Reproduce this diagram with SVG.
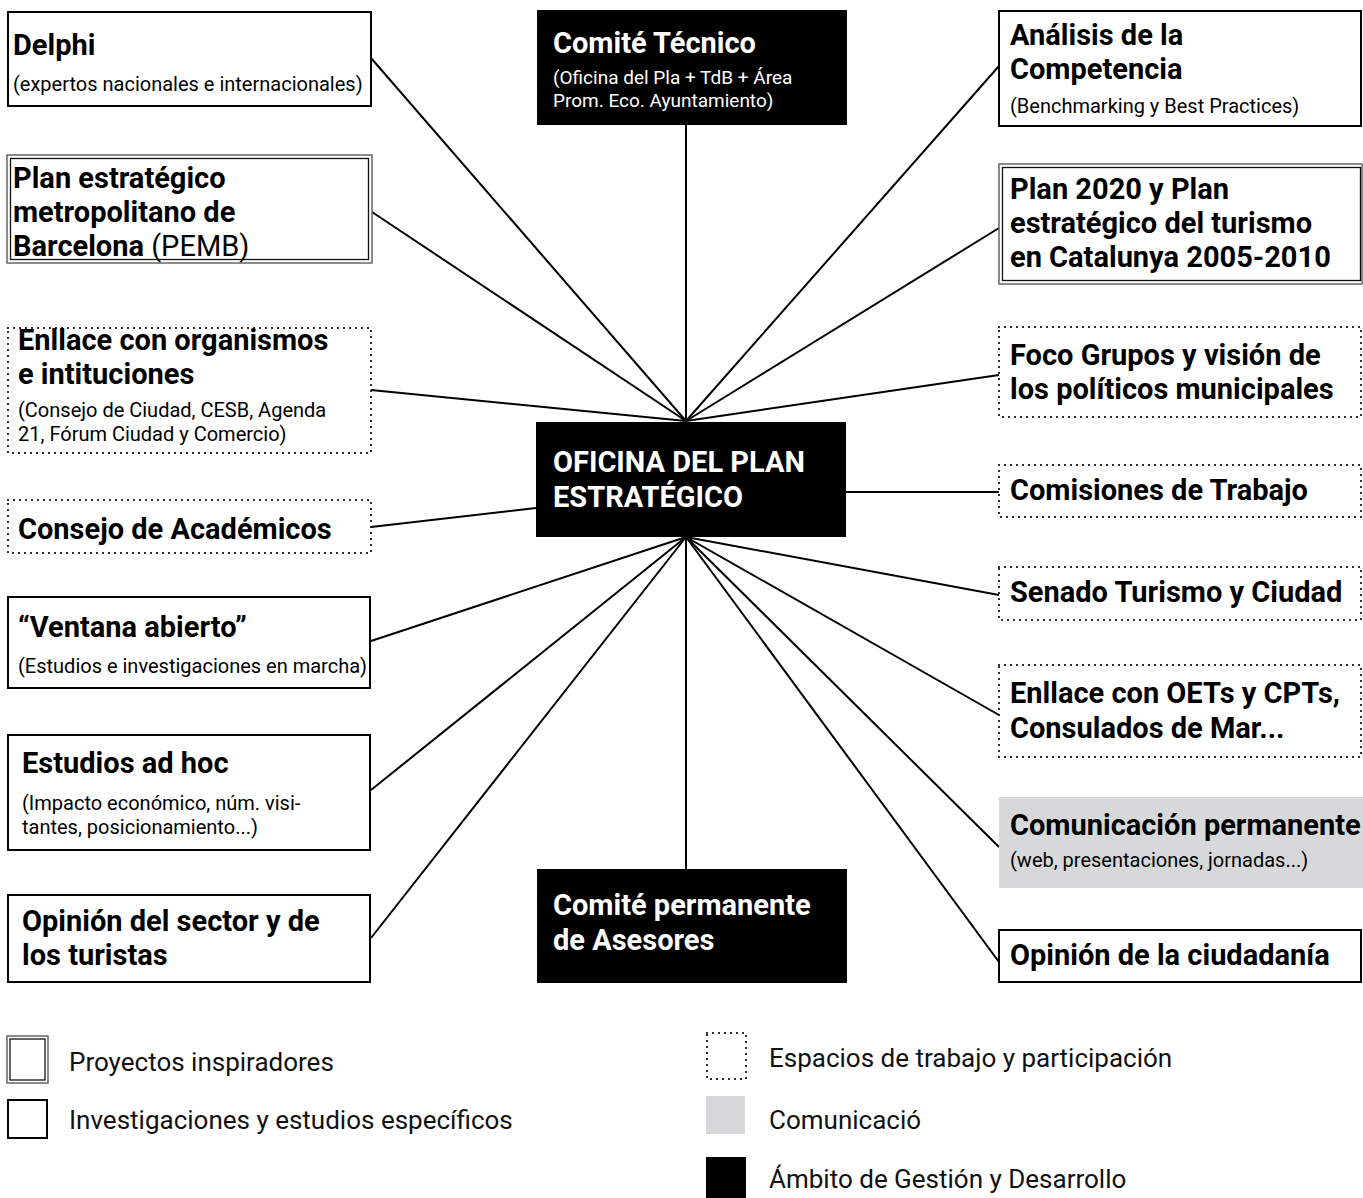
<svg xmlns="http://www.w3.org/2000/svg" width="1363" height="1198" viewBox="0 0 1363 1198">
<style>
.t{font-family:Roboto,"Liberation Sans",sans-serif;font-weight:700;font-size:29px;fill:#000}
.s{font-family:Roboto,"Liberation Sans",sans-serif;font-weight:400;font-size:20px;fill:#000}
.w{fill:#fff}
.n{font-weight:400}
.lg{font-family:Roboto,"Liberation Sans",sans-serif;font-weight:400;font-size:26px;fill:#111}
.solid{fill:#fff;stroke:#000;stroke-width:2}
.dot{fill:#fff;stroke:#000;stroke-width:2.2;stroke-dasharray:0 6;stroke-linecap:round}
.dbo{fill:#fff;stroke:#666;stroke-width:1.5}
.dbi{fill:none;stroke:#111;stroke-width:1.3}
.blk{fill:#000}
.gry{fill:#d7d8da}
.con line{stroke:#000;stroke-width:2}
</style>
<rect width="1363" height="1198" fill="#fff"/>
<g class="con" id="connectors">
<line x1="686" y1="125" x2="686" y2="421"/>
<line x1="686" y1="421" x2="371" y2="58"/>
<line x1="686" y1="421" x2="372" y2="212"/>
<line x1="686" y1="421" x2="371" y2="390"/>
<line x1="686" y1="421" x2="999" y2="66"/>
<line x1="686" y1="421" x2="999" y2="228"/>
<line x1="686" y1="421" x2="999" y2="375"/>
<line x1="371" y1="527" x2="536" y2="508"/>
<line x1="846" y1="492" x2="999" y2="492"/>
<line x1="686" y1="537" x2="371" y2="641"/>
<line x1="686" y1="537" x2="371" y2="790"/>
<line x1="686" y1="537" x2="371" y2="938"/>
<line x1="686" y1="537" x2="999" y2="595"/>
<line x1="686" y1="537" x2="999" y2="715"/>
<line x1="686" y1="537" x2="999" y2="847"/>
<line x1="686" y1="537" x2="999" y2="962"/>
<line x1="686" y1="537" x2="686" y2="869"/>
</g>
<g id="comite-tecnico">
<rect class="blk" x="537" y="10" width="310" height="115"/>
<text class="t w" x="553" y="53">Comité Técnico</text>
<text class="s w" x="553" y="84" style="font-size:19px">(Oficina del Pla + TdB + Área</text>
<text class="s w" x="553" y="107" style="font-size:19px">Prom. Eco. Ayuntamiento)</text>
</g>
<g id="oficina">
<rect class="blk" x="536" y="422" width="310" height="115"/>
<text class="t w" x="553" y="472">OFICINA DEL PLAN</text>
<text class="t w" x="553" y="507">ESTRATÉGICO</text>
</g>
<g id="comite-permanente">
<rect class="blk" x="537" y="869" width="310" height="114"/>
<text class="t w" x="553" y="915">Comité permanente</text>
<text class="t w" x="553" y="950">de Asesores</text>
</g>
<g id="delphi">
<rect class="solid" x="8" y="12" width="363" height="94"/>
<text class="t" x="13" y="55">Delphi</text>
<text class="s" x="13" y="91">(expertos nacionales e internacionales)</text>
</g>
<g id="pemb">
<rect class="dbo" x="7" y="155" width="365" height="108"/>
<rect class="dbi" x="10.5" y="158.5" width="358" height="101"/>
<text class="t" x="13" y="188">Plan estratégico</text>
<text class="t" x="13" y="222">metropolitano de</text>
<text class="t" x="13" y="256">Barcelona <tspan class="n">(PEMB)</tspan></text>
</g>
<g id="enllace-organismos">
<rect class="dot" x="8" y="328" width="363" height="125"/>
<text class="t" x="18" y="350">Enllace con organismos</text>
<text class="t" x="18" y="384">e intituciones</text>
<text class="s" x="18" y="417">(Consejo de Ciudad, CESB, Agenda</text>
<text class="s" x="18" y="441">21, Fórum Ciudad y Comercio)</text>
</g>
<g id="consejo-academicos">
<rect class="dot" x="8" y="500" width="363" height="53"/>
<text class="t" x="18" y="539">Consejo de Académicos</text>
</g>
<g id="ventana">
<rect class="solid" x="8" y="597" width="362" height="91"/>
<text class="t" x="18" y="637">“Ventana abierto”</text>
<text class="s" x="18" y="673">(Estudios e investigaciones en marcha)</text>
</g>
<g id="estudios">
<rect class="solid" x="8" y="735" width="362" height="115"/>
<text class="t" x="22" y="773">Estudios ad hoc</text>
<text class="s" x="22" y="810">(Impacto económico, núm. visi-</text>
<text class="s" x="22" y="834">tantes, posicionamiento...)</text>
</g>
<g id="opinion-sector">
<rect class="solid" x="8" y="895" width="362" height="87"/>
<text class="t" x="22" y="931">Opinión del sector y de</text>
<text class="t" x="22" y="965">los turistas</text>
</g>
<g id="analisis">
<rect class="solid" x="999" y="11" width="362" height="115"/>
<text class="t" x="1010" y="45">Análisis de la</text>
<text class="t" x="1010" y="79">Competencia</text>
<text class="s" x="1010" y="113">(Benchmarking y Best Practices)</text>
</g>
<g id="plan2020">
<rect class="dbo" x="999" y="164" width="363" height="120"/>
<rect class="dbi" x="1002.5" y="167.5" width="358" height="113"/>
<text class="t" x="1010" y="199">Plan 2020 y Plan</text>
<text class="t" x="1010" y="233">estratégico del turismo</text>
<text class="t" x="1010" y="267">en Catalunya 2005-2010</text>
</g>
<g id="foco">
<rect class="dot" x="999" y="327" width="362" height="90"/>
<text class="t" x="1010" y="365">Foco Grupos y visión de</text>
<text class="t" x="1010" y="399">los políticos municipales</text>
</g>
<g id="comisiones">
<rect class="dot" x="999" y="465" width="362" height="52"/>
<text class="t" x="1010" y="500">Comisiones de Trabajo</text>
</g>
<g id="senado">
<rect class="dot" x="999" y="567" width="362" height="53"/>
<text class="t" x="1010" y="602">Senado Turismo y Ciudad</text>
</g>
<g id="enllace-oets">
<rect class="dot" x="999" y="665" width="362" height="92"/>
<text class="t" x="1010" y="703">Enllace con OETs y CPTs,</text>
<text class="t" x="1010" y="738">Consulados de Mar...</text>
</g>
<g id="comunicacion">
<rect class="gry" x="999" y="797" width="364" height="91"/>
<text class="t" x="1010" y="835">Comunicación permanente</text>
<text class="s" x="1010" y="867">(web, presentaciones, jornadas...)</text>
</g>
<g id="opinion-ciudadania">
<rect class="solid" x="999" y="930" width="362" height="52"/>
<text class="t" x="1010" y="965">Opinión de la ciudadanía</text>
</g>
<g id="legend">
<rect class="dbo" x="7" y="1036" width="41" height="47"/>
<rect class="dbi" x="10" y="1039" width="35" height="41"/>
<text class="lg" x="69" y="1071">Proyectos inspiradores</text>
<rect class="solid" x="8" y="1100" width="39" height="38"/>
<text class="lg" x="69" y="1129">Investigaciones y estudios específicos</text>
<rect class="dot" x="707" y="1033" width="39" height="46"/>
<text class="lg" x="769" y="1067">Espacios de trabajo y participación</text>
<rect class="gry" x="706" y="1096" width="39" height="38"/>
<text class="lg" x="769" y="1129">Comunicació</text>
<rect class="blk" x="706" y="1157" width="40" height="41"/>
<text class="lg" x="769" y="1188">Ámbito de Gestión y Desarrollo</text>
</g>
</svg>
